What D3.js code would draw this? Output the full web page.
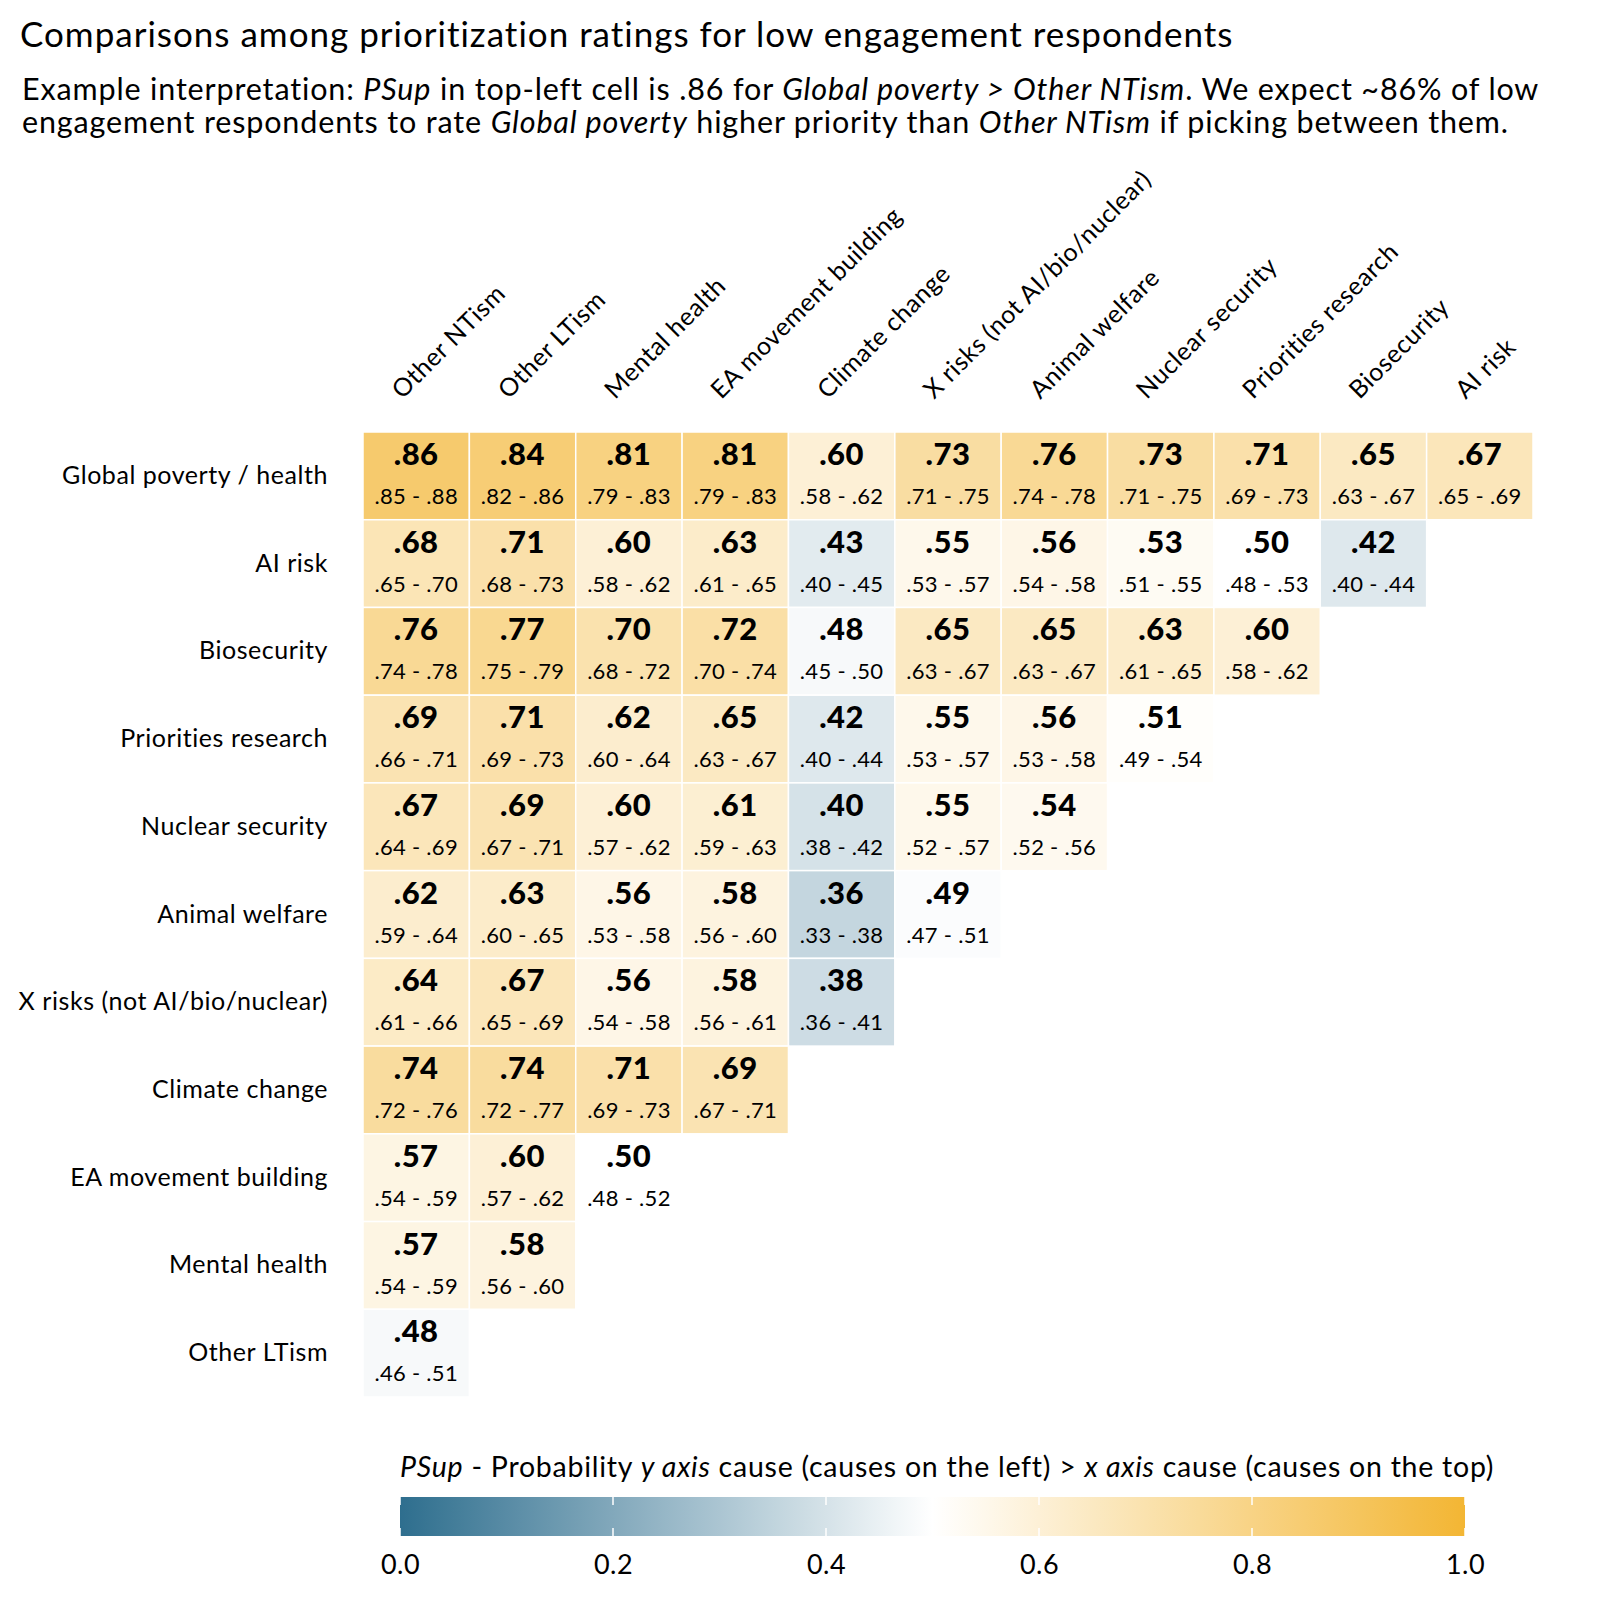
<!DOCTYPE html>
<html>
<head>
<meta charset="utf-8">
<script src="https://cdn.jsdelivr.net/npm/d3@7"></script>
<style>
  body { margin: 0; background: #fff; }
  svg text { font-family: Lato, "Open Sans", sans-serif; fill: #000; }
</style>
</head>
<body>
<div id="chart"></div>
<script>
// Row causes (y axis, left) and column causes (x axis, top)
const rowCauses = ['Global poverty / health', 'AI risk', 'Biosecurity', 'Priorities research',
  'Nuclear security', 'Animal welfare', 'X risks (not AI/bio/nuclear)', 'Climate change',
  'EA movement building', 'Mental health', 'Other LTism'];
const colCauses = ['Other NTism', 'Other LTism', 'Mental health', 'EA movement building',
  'Climate change', 'X risks (not AI/bio/nuclear)', 'Animal welfare', 'Nuclear security',
  'Priorities research', 'Biosecurity', 'AI risk'];

// PSup point estimates, one array per row (left to right)
const psup = [
  [.86, .84, .81, .81, .60, .73, .76, .73, .71, .65, .67],
  [.68, .71, .60, .63, .43, .55, .56, .53, .50, .42],
  [.76, .77, .70, .72, .48, .65, .65, .63, .60],
  [.69, .71, .62, .65, .42, .55, .56, .51],
  [.67, .69, .60, .61, .40, .55, .54],
  [.62, .63, .56, .58, .36, .49],
  [.64, .67, .56, .58, .38],
  [.74, .74, .71, .69],
  [.57, .60, .50],
  [.57, .58],
  [.48]
];
// lower bounds of intervals
const psupLo = [
  [.85, .82, .79, .79, .58, .71, .74, .71, .69, .63, .65],
  [.65, .68, .58, .61, .40, .53, .54, .51, .48, .40],
  [.74, .75, .68, .70, .45, .63, .63, .61, .58],
  [.66, .69, .60, .63, .40, .53, .53, .49],
  [.64, .67, .57, .59, .38, .52, .52],
  [.59, .60, .53, .56, .33, .47],
  [.61, .65, .54, .56, .36],
  [.72, .72, .69, .67],
  [.54, .57, .48],
  [.54, .56],
  [.46]
];
// upper bounds of intervals
const psupHi = [
  [.88, .86, .83, .83, .62, .75, .78, .75, .73, .67, .69],
  [.70, .73, .62, .65, .45, .57, .58, .55, .53, .44],
  [.78, .79, .72, .74, .50, .67, .67, .65, .62],
  [.71, .73, .64, .67, .44, .57, .58, .54],
  [.69, .71, .62, .63, .42, .57, .56],
  [.64, .65, .58, .60, .38, .51],
  [.66, .69, .58, .61, .41],
  [.76, .77, .73, .71],
  [.59, .62, .52],
  [.59, .60],
  [.51]
];
const legendTicks = [0, 0.2, 0.4, 0.6, 0.8, 1.0];

const W = 1600, H = 1600;
const grid = { left: 363, top: 432, right: 1533, bottom: 1397 };

const cells = [];
psup.forEach((row, i) => row.forEach((v, j) => {
  cells.push({ row: rowCauses[i], col: colCauses[j], v: v, lo: psupLo[i][j], hi: psupHi[i][j] });
}));

const fmt = v => d3.format('.2f')(v).replace(/^0/, '');

const svg = d3.select('#chart').append('svg')
  .attr('width', W)
  .attr('height', H);

const x = d3.scaleBand().domain(colCauses).range([grid.left, grid.right]).padding(0);
const y = d3.scaleBand().domain(rowCauses).range([grid.top, grid.bottom]).padding(0);
const color = d3.scaleLinear().domain([0, 0.5, 1]).range(['#2e6e8e', '#ffffff', '#f3b634']);

// Title + subtitle
svg.append('text')
  .attr('x', 20).attr('y', 47)
  .style('font-size', '35px')
  .style('letter-spacing', '1px')
  .text('Comparisons among prioritization ratings for low engagement respondents');

const sub1 = svg.append('text').attr('x', 22).attr('y', 100)
  .style('font-size', '30.5px').style('letter-spacing', '0.85px');
[['Example interpretation: ', false], ['PSup', true], [' in top-left cell is .86 for ', false],
 ['Global poverty > Other NTism', true], ['. We expect ~86% of low', false]]
  .forEach(p => sub1.append('tspan').style('font-style', p[1] ? 'italic' : 'normal').text(p[0]));
const sub2 = svg.append('text').attr('x', 22).attr('y', 133)
  .style('font-size', '30.5px').style('letter-spacing', '0.85px');
[['engagement respondents to rate ', false], ['Global poverty', true], [' higher priority than ', false],
 ['Other NTism', true], [' if picking between them.', false]]
  .forEach(p => sub2.append('tspan').style('font-style', p[1] ? 'italic' : 'normal').text(p[0]));

// Cells
svg.selectAll('.cell')
  .data(cells)
  .enter().append('rect')
  .attr('class', 'cell')
  .attr('x', d => x(d.col))
  .attr('y', d => y(d.row))
  .attr('width', x.bandwidth())
  .attr('height', y.bandwidth())
  .attr('fill', d => color(d.v))
  .attr('stroke', '#fff')
  .attr('stroke-width', 1.5);

svg.selectAll('.val')
  .data(cells)
  .enter().append('text')
  .attr('class', 'val')
  .attr('x', d => x(d.col) + x.bandwidth() / 2)
  .attr('y', d => y(d.row) + 33)
  .attr('text-anchor', 'middle')
  .style('font-size', '31px')
  .style('font-weight', '900')
  .style('letter-spacing', '0.5px')
  .text(d => fmt(d.v));

svg.selectAll('.ci')
  .data(cells)
  .enter().append('text')
  .attr('class', 'ci')
  .attr('x', d => x(d.col) + x.bandwidth() / 2)
  .attr('y', d => y(d.row) + 72)
  .attr('text-anchor', 'middle')
  .style('font-size', '22px')
  .style('letter-spacing', '0.3px')
  .text(d => `${fmt(d.lo)} - ${fmt(d.hi)}`);

// Left axis (row causes)
const yAxis = svg.append('g')
  .attr('transform', `translate(${grid.left - 35},0)`)
  .call(d3.axisLeft(y).tickSize(0).tickPadding(0));
yAxis.select('.domain').remove();
yAxis.selectAll('text')
  .style('font-family', 'Lato, sans-serif')
  .style('font-size', '25px')
  .style('letter-spacing', '0.55px')
  .attr('fill', '#000');

// Top axis (column causes), rotated
const xAxis = svg.append('g')
  .attr('transform', `translate(0,${grid.top - 32})`)
  .call(d3.axisTop(x).tickSize(0).tickPadding(0));
xAxis.select('.domain').remove();
xAxis.selectAll('text')
  .style('font-family', 'Lato, sans-serif')
  .style('font-size', '25px')
  .style('letter-spacing', '0.55px')
  .attr('fill', '#000')
  .attr('text-anchor', 'start')
  .attr('dy', 0)
  .attr('transform', 'translate(-14,0) rotate(-45)');

// Legend
const leg = { left: 400, right: 1465, top: 1497, h: 39 };
const lx = d3.scaleLinear().domain([0, 1]).range([leg.left, leg.right]);

const lt = svg.append('text').attr('x', leg.left).attr('y', 1477)
  .style('font-size', '28.5px').style('letter-spacing', '0.75px');
[['PSup', true], [' - Probability ', false], ['y axis', true], [' cause (causes on the left) > ', false],
 ['x axis', true], [' cause (causes on the top)', false]]
  .forEach(p => lt.append('tspan').style('font-style', p[1] ? 'italic' : 'normal').text(p[0]));

const grad = svg.append('defs').append('linearGradient').attr('id', 'psupGrad');
d3.range(0, 1.0001, 0.05).forEach(t => {
  grad.append('stop').attr('offset', `${t * 100}%`).attr('stop-color', color(t));
});
svg.append('rect')
  .attr('x', leg.left).attr('y', leg.top)
  .attr('width', leg.right - leg.left).attr('height', leg.h)
  .attr('fill', 'url(#psupGrad)');

const lAxis = svg.append('g')
  .attr('transform', `translate(0,${leg.top + leg.h})`)
  .call(d3.axisBottom(lx).tickValues(legendTicks).tickFormat(d3.format('.1f')).tickSize(0).tickPadding(19));
lAxis.select('.domain').remove();
lAxis.selectAll('text')
  .style('font-family', 'Lato, sans-serif')
  .style('font-size', '27px')
  .style('letter-spacing', '0.5px')
  .attr('fill', '#000');

// white tick marks on the bar
svg.selectAll('.ltick')
  .data(legendTicks)
  .enter().append('g')
  .each(function(d) {
    const g = d3.select(this);
    g.append('line').attr('x1', lx(d)).attr('x2', lx(d))
      .attr('y1', leg.top).attr('y2', leg.top + 8)
      .attr('stroke', '#fff').attr('stroke-width', 1.5);
    g.append('line').attr('x1', lx(d)).attr('x2', lx(d))
      .attr('y1', leg.top + leg.h - 8).attr('y2', leg.top + leg.h)
      .attr('stroke', '#fff').attr('stroke-width', 1.5);
  });
</script>
</body>
</html>
